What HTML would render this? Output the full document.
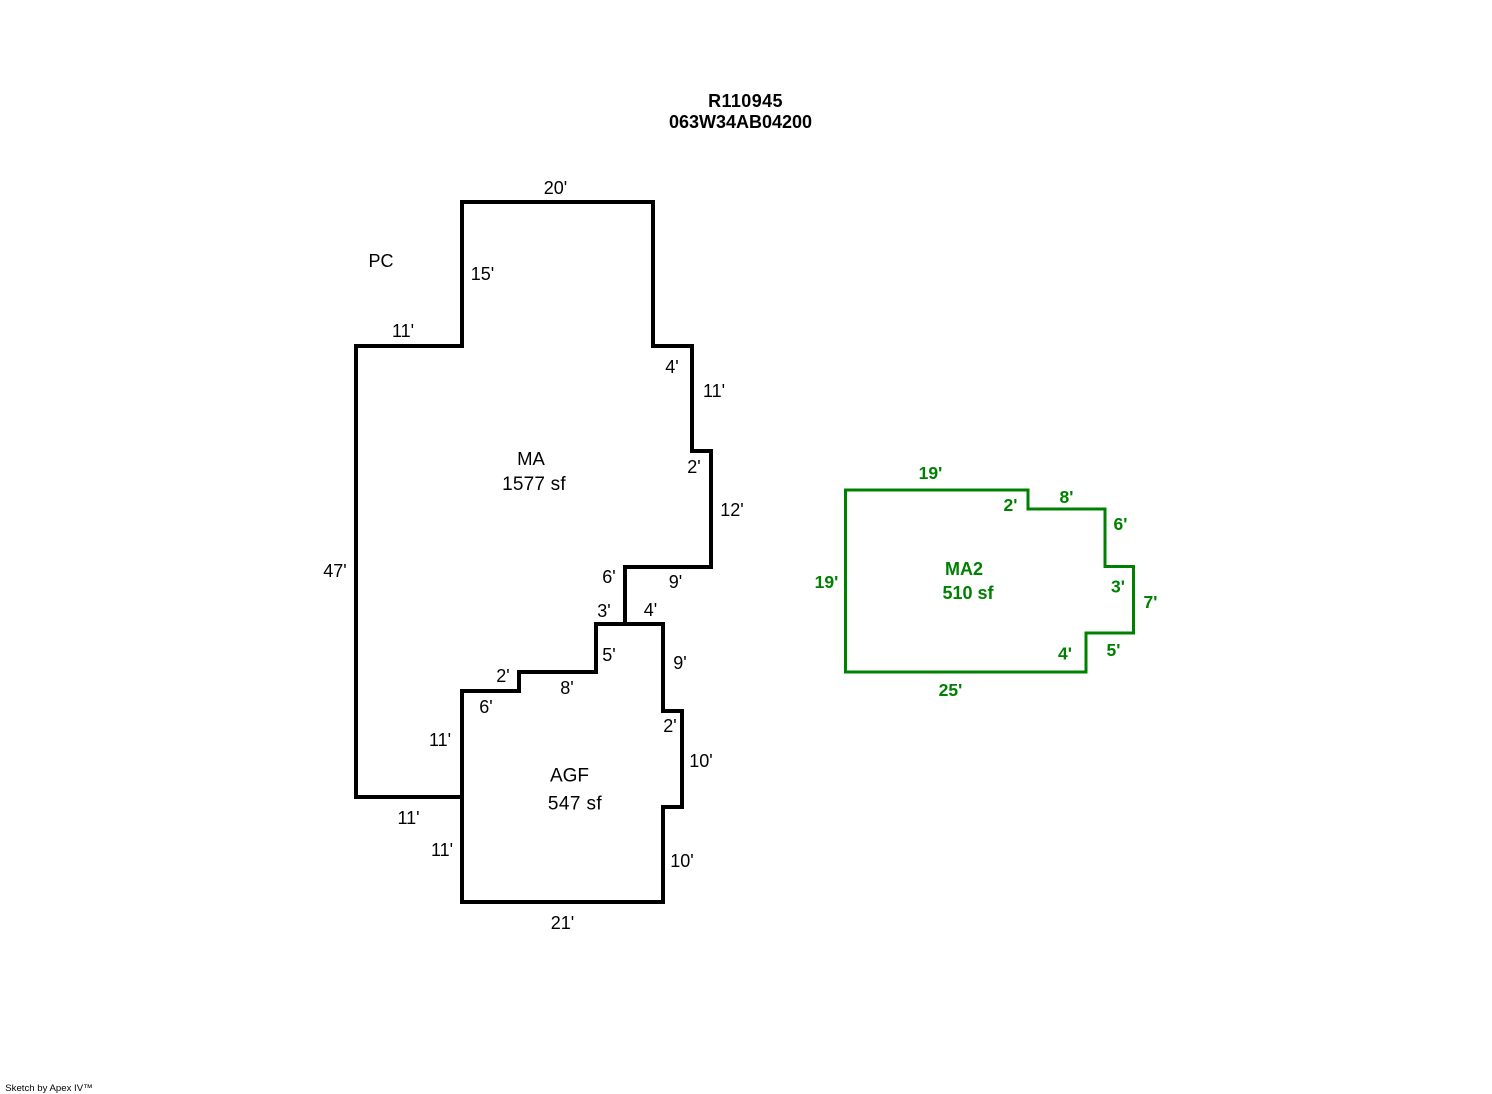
<!DOCTYPE html>
<html>
<head>
<meta charset="utf-8">
<style>
html,body{margin:0;padding:0;background:#fff;width:1492px;height:1094px;overflow:hidden}
svg{display:block}
text{font-family:"Liberation Sans",sans-serif;text-anchor:middle}
.k{font-size:19px;fill:#000}
.d{font-size:18px;fill:#000}
.g{font-size:17.500px;font-weight:bold;fill:#008000}
.gl{font-size:18px;font-weight:bold;fill:#008000}
.t{font-size:18px;font-weight:bold;fill:#000}
</style>
</head>
<body>
<svg width="1492" height="1094" viewBox="0 0 1492 1094" xmlns="http://www.w3.org/2000/svg">
<rect width="1492" height="1094" fill="#fff"/>
<g fill="none" stroke="#000" stroke-width="4" stroke-linejoin="miter">
<path d="M462 346V202H653V346H692V451H711V567H625V624H596V672H519V691H462V797H356V346Z"/>
<path d="M462 691H519V672H596V624H663V711H682V807H663V902H462Z"/>
</g>
<path d="M845.500 490H1028V509H1105V566.500H1133.500V633H1086V672H845.500Z" fill="none" stroke="#008000" stroke-width="3"/>
<text class="t" x="745.500" y="107" style="letter-spacing:.4px">R110945</text>
<text class="t" x="740.500" y="128">063W34AB04200</text>
<text class="d" x="555.500" y="194">20'</text>
<text class="k" x="381" y="267" style="font-size:18px">PC</text>
<text class="d" x="482.500" y="280">15'</text>
<text class="d" x="403" y="337">11'</text>
<text class="d" x="672" y="373">4'</text>
<text class="d" x="714" y="397">11'</text>
<text class="d" x="694" y="473">2'</text>
<text class="k" x="531" y="465" style="font-size:18.500px">MA</text>
<text class="k" x="534" y="490" style="letter-spacing:.2px">1577 sf</text>
<text class="d" x="732" y="516">12'</text>
<text class="d" x="335" y="577">47'</text>
<text class="d" x="609" y="583">6'</text>
<text class="d" x="675.500" y="588">9'</text>
<text class="d" x="604" y="617">3'</text>
<text class="d" x="650.500" y="616">4'</text>
<text class="d" x="609" y="661">5'</text>
<text class="d" x="680" y="669">9'</text>
<text class="d" x="503" y="682">2'</text>
<text class="d" x="567" y="694">8'</text>
<text class="d" x="486" y="713">6'</text>
<text class="d" x="670" y="732">2'</text>
<text class="d" x="440" y="746">11'</text>
<text class="d" x="701" y="767">10'</text>
<text class="k" x="569.500" y="781.500">AGF</text>
<text class="k" x="575" y="809.500" style="letter-spacing:.4px">547 sf</text>
<text class="d" x="408.500" y="824">11'</text>
<text class="d" x="442" y="856">11'</text>
<text class="d" x="682" y="867">10'</text>
<text class="d" x="562.500" y="929">21'</text>
<text class="g" x="930.500" y="479">19'</text>
<text class="g" x="1010.500" y="511">2'</text>
<text class="g" x="1066.500" y="503">8'</text>
<text class="g" x="1120.500" y="530">6'</text>
<text class="gl" x="964" y="575">MA2</text>
<text class="gl" x="968" y="599">510 sf</text>
<text class="g" x="826.500" y="588">19'</text>
<text class="g" x="1118" y="592.500">3'</text>
<text class="g" x="1150.500" y="608">7'</text>
<text class="g" x="1065" y="659.500">4'</text>
<text class="g" x="1113.500" y="656">5'</text>
<text class="g" x="950.500" y="696">25'</text>
<text x="49" y="1091" style="font-size:9.600px;fill:#000">Sketch by Apex IV™</text>
</svg>
</body>
</html>
